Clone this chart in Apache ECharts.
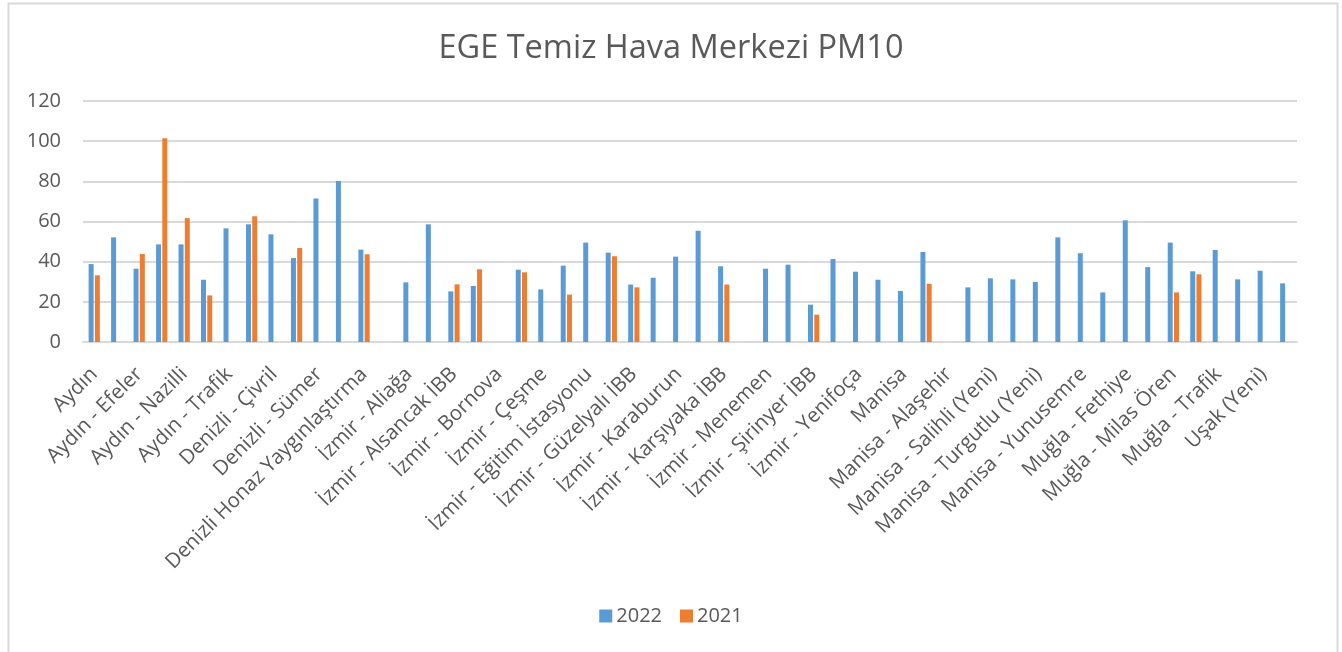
<!DOCTYPE html>
<html>
<head>
<meta charset="utf-8">
<script src="https://cdn.jsdelivr.net/npm/echarts@6/dist/echarts.min.js"></script>
<style>
  html, body { margin: 0; padding: 0; background: #fff; }
  #mainChart { width: 1342px; height: 652px; }
</style>
</head>
<body>
<div id="mainChart"></div>
<script>
'use strict'
// every other station name is hidden on the axis (not readable in the picture)
var categories = [
    'Aydın', '', 'Aydın - Efeler', '', 'Aydın - Nazilli', '', 'Aydın - Trafik', '',
    'Denizli - Çivril', '', 'Denizli - Sümer', '', 'Denizli Honaz Yaygınlaştırma', '',
    'İzmir - Aliağa', '', 'İzmir - Alsancak İBB', '', 'İzmir - Bornova', '',
    'İzmir - Çeşme', '', 'İzmir - Eğitim İstasyonu', '', 'İzmir - Güzelyalı İBB', '',
    'İzmir - Karaburun', '', 'İzmir - Karşıyaka İBB', '', 'İzmir - Menemen', '',
    'İzmir - Şirinyer İBB', '', 'İzmir - Yenifoça', '', 'Manisa', '',
    'Manisa - Alaşehir', '', 'Manisa - Salihli (Yeni)', '', 'Manisa - Turgutlu (Yeni)', '',
    'Manisa - Yunusemre', '', 'Muğla - Fethiye', '', 'Muğla - Milas Ören', '',
    'Muğla - Trafik', '', 'Uşak (Yeni)', ''
];
var values2022 = [
    38.8, 52.1, 36.5, 48.6, 48.6, 31.0, 56.6, 58.6, 53.6, 41.8, 71.5, 80.2, 46.0, null,
    29.7, 58.6, 25.2, 27.9, null, 36.0, 26.2, 38.0, 49.5, 44.5, 28.6, 32.0, 42.5, 55.4,
    37.7, null, 36.5, 38.5, 18.6, 41.3, 35.0, 31.0, 25.4, 44.8, null, 27.2, 31.7, 31.2,
    29.9, 52.1, 44.2, 24.7, 60.6, 37.3, 49.5, 35.2, 45.8, 31.2, 35.5, 29.2
];
var values2021 = [
    33.2, null, 43.8, 101.4, 61.7, 23.2, null, 62.6, null, 46.8, null, null, 43.7, null,
    null, null, 28.7, 36.2, null, 34.7, null, 23.6, null, 42.7, 27.2, null, null, null,
    28.6, null, null, null, 13.6, null, null, null, null, 29.0, null, null, null, null,
    null, null, null, null, null, null, 24.7, 33.7, null, null, null, null
];
var yTicks = [0, 20, 40, 60, 80, 100, 120];

var textColor = '#595959';
var font = 'Open Sans';

var myChart = echarts.init(document.getElementById('mainChart'));
myChart.setOption({
    animation: false,
    textStyle: { fontFamily: font },
    title: {
        text: 'EGE Temiz Hava Merkezi PM10',
        left: 'center',
        top: 27,
        textStyle: { fontFamily: font, fontSize: 32.5, fontWeight: 'normal', color: textColor }
    },
    legend: {
        data: ['2022', '2021'],
        left: 'center',
        top: 601,
        itemWidth: 13,
        itemHeight: 13,
        itemGap: 18,
        icon: 'rect',
        textStyle: { fontFamily: font, fontSize: 20, color: textColor, padding: [0, 0, 0, -1] }
    },
    grid: {
        left: 83,
        right: 45,
        top: 101,
        bottom: 310,
        containLabel: false
    },
    xAxis: {
        type: 'category',
        data: categories,
        axisLine: { lineStyle: { color: '#d9d9d9', width: 2 } },
        axisTick: { show: false },
        axisLabel: {
            interval: 0,
            rotate: 45,
            margin: 29,
            fontFamily: font,
            fontSize: 20.5,
            color: textColor
        }
    },
    yAxis: {
        type: 'value',
        min: yTicks[0],
        max: yTicks[yTicks.length - 1],
        interval: 20,
        axisLine: { show: false },
        axisTick: { show: false },
        splitLine: { lineStyle: { color: '#d9d9d9', width: 2 } },
        axisLabel: { margin: 22, fontFamily: font, fontSize: 20, color: textColor }
    },
    graphic: [{
        type: 'rect',
        left: 6,
        top: 1,
        shape: { width: 1329, height: 700 },
        style: { fill: 'none', stroke: '#d9d9d9', lineWidth: 2 }
    }],
    series: [
        {
            name: '2022',
            type: 'bar',
            data: values2022,
            barWidth: 5,
            barGap: '25%',
            itemStyle: { color: '#5b9bd5' }
        },
        {
            name: '2021',
            type: 'bar',
            data: values2021,
            barWidth: 5,
            barGap: '25%',
            itemStyle: { color: '#ed7d31' }
        }
    ]
});
</script>
</body>
</html>
